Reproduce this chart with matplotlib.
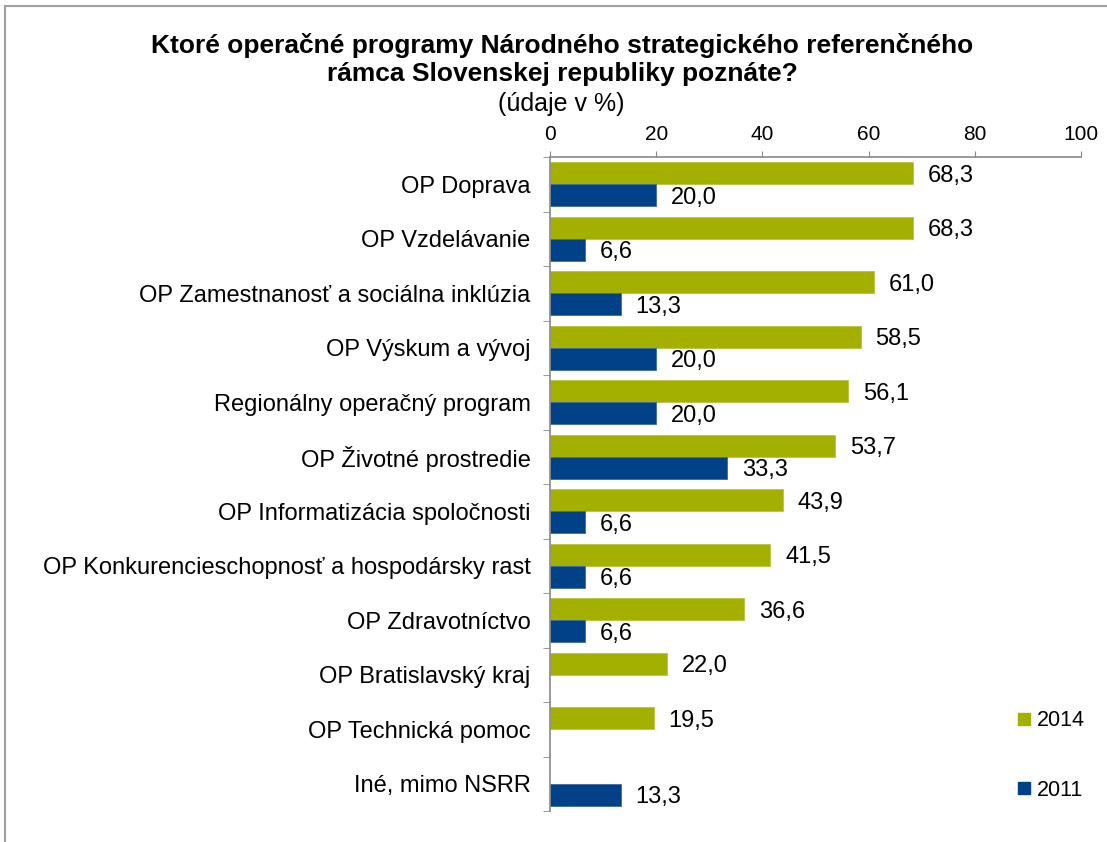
import matplotlib
matplotlib.use("Agg")
import matplotlib.pyplot as plt
import numpy as np
from matplotlib.patches import Rectangle
from matplotlib.lines import Line2D

categories = [
    "OP Doprava",
    "OP Vzdelávanie",
    "OP Zamestnanosť a sociálna inklúzia",
    "OP Výskum a vývoj",
    "Regionálny operačný program",
    "OP Životné prostredie",
    "OP Informatizácia spoločnosti",
    "OP Konkurencieschopnosť a hospodársky rast",
    "OP Zdravotníctvo",
    "OP Bratislavský kraj",
    "OP Technická pomoc",
    "Iné, mimo NSRR",
]
values_2014 = [68.3, 68.3, 61.0, 58.5, 56.1, 53.7, 43.9, 41.5, 36.6, 22.0, 19.5, None]
values_2011 = [20.0, 6.6, 13.3, 20.0, 20.0, 33.3, 6.6, 6.6, 6.6, None, None, 13.3]
series_labels = ["2014", "2011"]
x_ticks = [0, 20, 40, 60, 80, 100]

green = "#A3B000"
blue = "#004187"
gray = "#898989"

plt.rcParams['font.family'] = ['Liberation Sans', 'DejaVu Sans']

fig = plt.figure(figsize=(11.07, 8.42), dpi=100)
fig.patches.append(Rectangle((5/1107, -0.1), 1.2, 1 - 6/842 + 0.1, transform=fig.transFigure,
                             fill=False, edgecolor="#A0A0A0", linewidth=1.5))

ax = fig.add_axes([550/1107, 1 - 811/842, (1081 - 550)/1107, (811 - 157)/842])
n = len(categories)
y = np.arange(n)
h = 0.40

for i in range(n):
    v14 = values_2014[i]
    v11 = values_2011[i]
    if v14 is not None:
        ax.barh(y[i] - h/2, v14, height=h, color=green, edgecolor="#B8C440", linewidth=0.6)
        ax.text(v14 + 2.8, y[i] - h/2, f"{v14:.1f}".replace(".", ","), va="center_baseline", ha="left", fontsize=17)
    if v11 is not None:
        ax.barh(y[i] + h/2, v11, height=h, color=blue, edgecolor="#3C6AA0", linewidth=0.6)
        ax.text(v11 + 2.8, y[i] + h/2, f"{v11:.1f}".replace(".", ","), va="center_baseline", ha="left", fontsize=17)

ax.set_xlim(0, 100)
ax.set_ylim(n - 0.5, -0.5)
ax.xaxis.tick_top()
ax.set_xticks(x_ticks)
ax.set_xticklabels([str(t) for t in x_ticks], fontsize=15)
ax.tick_params(axis="x", direction="out", length=4, color=gray, pad=5)
ax.set_yticks(y)
ax.set_yticklabels(categories, fontsize=17)
ax.tick_params(axis="y", which="major", length=0, pad=14)
ax.set_yticks(np.arange(-0.5, n, 1), minor=True)
ax.tick_params(axis="y", which="minor", direction="out", length=5, color=gray)
for s in ["right", "bottom"]:
    ax.spines[s].set_visible(False)
for s in ["top", "left"]:
    ax.spines[s].set_color(gray)
    ax.spines[s].set_linewidth(1.2)

fig.text(562/1107, 1 - 46/842, "Ktoré operačné programy Národného strategického referenčného",
         ha="center", va="center", fontsize=19, fontweight="bold")
fig.text(562/1107, 1 - 74/842, "rámca Slovenskej republiky poznáte?",
         ha="center", va="center", fontsize=19, fontweight="bold")
fig.text(561/1107, 1 - 104/842, "(údaje v %)", ha="center", va="center", fontsize=18)

handles = [Line2D([], [], marker="s", linestyle="none", markersize=8, color=green),
           Line2D([], [], marker="s", linestyle="none", markersize=8, color=blue)]
fig.legend(handles, series_labels, loc="upper left", bbox_to_anchor=(996/1107, 1 - 691/842),
           frameon=False, fontsize=15.5, labelspacing=2.25, handlelength=0.8, handletextpad=0.2)

fig.savefig("out.png", dpi=100)
